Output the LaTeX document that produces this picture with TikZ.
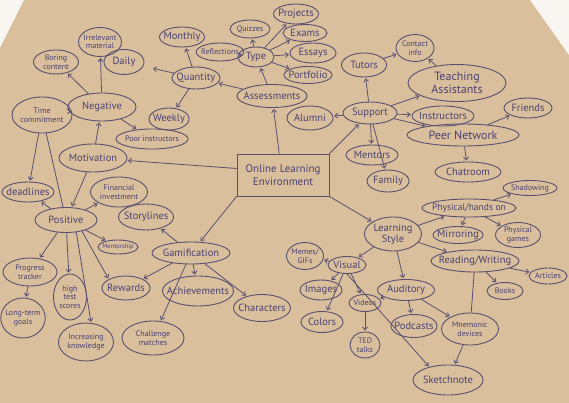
\documentclass[tikz,border=0pt]{standalone}
\usepackage{fontspec}
\setmainfont{PT Sans}
\usepackage{xcolor}
\usepackage{tikz}
\usetikzlibrary{arrows.meta, shapes.geometric}

\definecolor{paper}{HTML}{D9BF9C}
\definecolor{ink}{HTML}{5A5070}
\definecolor{pen}{HTML}{4A4274}

\begin{document}
\begin{tikzpicture}[x=1pt, y=-1pt,
        idea/.style={ellipse, draw=ink, line width=0.9pt, inner xsep=-6pt, inner ysep=0pt,
            text=pen, align=center, font=\fontsize{10.5}{11}\selectfont},
        tiny/.style={inner xsep=-2pt, font=\fontsize{8}{8.5}\selectfont},
        sz/.style 2 args={minimum width=#1pt, minimum height=#2pt},
        link/.style={draw=ink, line width=0.8pt, -{Straight Barb[length=3pt, width=5pt]}, shorten >=1pt},
        bare/.style={draw=ink, line width=0.8pt}]

        % Paper
        \fill[paper] (0,0) rectangle (569,403);
        \fill[white!85!paper] (530,0) -- (569,0) -- (569,55) -- cycle;
        \fill[white!85!paper] (0,0) -- (24,0) -- (0,48) -- cycle;
        \useasboundingbox (0,0) rectangle (569,403);

        % Centre
        \node[draw=ink, line width=0.9pt, text=pen, align=center, minimum width=92pt, minimum height=42pt,
            font=\fontsize{11}{13}\selectfont] (env) at (283,175) {Online Learning\\Environment};

        % Motivation
        \node[idea, sz={68}{28}] (mot) at (93,158) {Motivation};
        \node[idea, sz={68}{28}] (neg) at (102,107) {Negative};
        \node[idea, tiny, sz={45}{24}] (bor) at (56,62) {Boring\\content};
        \node[idea, tiny, sz={43}{29}] (irr) at (100,42) {Irrelevant\\material};
        \node[idea, tiny, sz={60}{36}] (tim) at (42,115) {Time\\commitment};
        \node[idea, tiny, sz={72}{20}] (poo) at (152,139) {Poor instructors};
        \node[idea, sz={62}{25}] (pos) at (66,220) {Positive};
        \node[idea, sz={52}{20}] (dea) at (28,192) {deadlines};
        \node[idea, tiny, sz={57}{30}] (fin) at (119,192) {Financial\\investment};
        \node[idea, tiny, sz={40}{14}, font=\fontsize{6.5}{7}\selectfont] (men) at (118,247) {Mentorship};
        \node[idea, tiny, sz={54}{28}] (pro) at (30,272) {Progress\\tracker};
        \node[idea, tiny, sz={42}{40}] (lon) at (23,318) {Long-term\\goals};
        \node[idea, tiny, sz={33}{46}] (hig) at (70,297) {high\\test\\scores};
        \node[idea, tiny, sz={55}{38}] (inc) at (86,342) {Increasing\\knowledge};

        % Gamification
        \node[idea, sz={78}{22}] (gam) at (191,253) {Gamification};
        \node[idea, sz={55}{26}] (sto) at (146,217) {Storylines};
        \node[idea, sz={48}{24}] (rew) at (126,288) {Rewards};
        \node[idea, sz={68}{30}] (ach) at (198,291) {Achievements};
        \node[idea, tiny, sz={62}{34}] (cha) at (153,338) {Challenge\\matches};
        \node[idea, sz={57}{27}] (chr) at (262,308) {Characters};

        % Assessments
        \node[idea, sz={70}{23}] (ass) at (272,96) {Assessments};
        \node[idea, sz={48}{22}] (qua) at (196,78) {Quantity};
        \node[idea, sz={45}{20}] (mon) at (182,37) {Monthly};
        \node[idea, sz={40}{22}] (wee) at (169,119) {Weekly};
        \node[idea, sz={40}{25}] (dai) at (124,62) {Daily};
        \node[idea, sz={36}{20}] (typ) at (256,57) {Type};
        \node[idea, tiny, sz={45}{18}] (ref) at (220,52) {Reflections};
        \node[idea, tiny, sz={40}{18}] (qui) at (250,29) {Quizzes};
        \node[idea, sz={45}{20}] (prj) at (296,14) {Projects};
        \node[idea, sz={44}{17}] (exa) at (305,33) {Exams};
        \node[idea, sz={46}{20}] (ess) at (313,53) {Essays};
        \node[idea, sz={48}{17}] (prt) at (308,75) {Portfolio};

        % Support
        \node[idea, sz={54}{22}] (sup) at (370,113) {Support};
        \node[idea, sz={46}{24}] (alu) at (310,118) {Alumni};
        \node[idea, sz={45}{24}] (tut) at (364,65) {Tutors};
        \node[idea, tiny, sz={38}{27}] (con) at (415,48) {Contact\\info};
        \node[idea, sz={98}{37}, font=\fontsize{12}{13}\selectfont] (tea) at (457,83) {Teaching\\Assistants};
        \node[idea, sz={62}{20}] (ins) at (443,116) {Instructors};
        \node[idea, sz={112}{22}, font=\fontsize{12}{13}\selectfont] (pee) at (463,135) {Peer Network};
        \node[idea, sz={48}{20}] (fri) at (528,108) {Friends};
        \node[idea, sz={66}{20}] (cht) at (468,172) {Chatroom};
        \node[idea, sz={52}{20}] (mnt) at (372,155) {Mentors};
        \node[idea, sz={42}{22}] (fam) at (388,181) {Family};

        % Learning style
        \node[idea, sz={57}{34}] (lea) at (393,234) {Learning\\Style};
        \node[idea, sz={94}{18}, font=\fontsize{9.5}{10}\selectfont] (phy) at (469,208) {Physical/hands on};
        \node[idea, tiny, sz={54}{15}] (sha) at (530,188) {Shadowing};
        \node[idea, sz={50}{17}] (mir) at (458,235) {Mirroring};
        \node[idea, tiny, sz={45}{25}] (pga) at (518,235) {Physical\\games};
        \node[idea, sz={88}{22}] (rea) at (475,261) {Reading/Writing};
        \node[idea, tiny, sz={38}{16}] (art) at (548,276) {Articles};
        \node[idea, tiny, sz={36}{17}] (boo) at (505,291) {Books};
        \node[idea, sz={38}{17}] (vis) at (347,265) {Visual};
        \node[idea, tiny, sz={37}{27}] (mem) at (305,256) {Memes/\\GIFs};
        \node[idea, sz={42}{20}] (ima) at (321,290) {Images};
        \node[idea, sz={42}{21}] (col) at (322,322) {Colors};
        \node[idea, tiny, sz={32}{17}] (vid) at (365,303) {Videos};
        \node[idea, tiny, sz={30}{26}] (ted) at (365,345) {TED\\talks};
        \node[idea, sz={57}{21}] (aud) at (406,290) {Auditory};
        \node[idea, sz={46}{23}] (pod) at (414,326) {Podcasts};
        \node[idea, tiny, sz={57}{32}] (mne) at (470,329) {Mnemonic\\devices};
        \node[idea, sz={70}{30}] (ske) at (448,380) {Sketchnote};

        % Links out of the centre
        \draw[link] (env.172) -- (mot);
        \draw[link] (env.100) -- (ass);
        \draw[link] (env.north east) -- (sup);
        \draw[link] (env.south east) -- (lea);
        \draw[link] (env.south west) -- (gam);

        % Motivation links
        \draw[link] (mot) -- (neg);
        \draw[link] (mot) -- (pos);
        \draw[link] (neg) -- (bor);
        \draw[link] (neg) -- (irr);
        \draw[link] (neg) -- (tim);
        \draw[link] (neg) -- (poo);
        \draw[link] (tim) -- (dea);
        \draw[bare] (tim) -- (pos);
        \draw[link] (pos) -- (dea);
        \draw[link] (pos) -- (fin);
        \draw[link] (pos) -- (men);
        \draw[link] (pos) -- (pro);
        \draw[link] (pos) -- (hig);
        \draw[link] (pos.-50) -- (inc.75);
        \draw[link] (pos.-35) -- (rew.north west);
        \draw[link] (pro) -- (lon);

        % Gamification links
        \draw[link] (gam) -- (sto);
        \draw[link] (gam) -- (rew);
        \draw[link] (gam) -- (ach);
        \draw[link] (gam) -- (cha);
        \draw[link] (gam) -- (chr);

        % Assessment links
        \draw[link] (ass) -- (qua);
        \draw[link] (ass) -- (typ);
        \draw[link] (qua) -- (mon);
        \draw[link] (qua) -- (wee);
        \draw[link, shorten >=10pt] (qua) -- (dai);
        \draw[link] (typ) -- (ref);
        \draw[link] (typ) -- (qui);
        \draw[link] (typ) -- (prj);
        \draw[link] (typ) -- (exa);
        \draw[link] (typ) -- (ess);
        \draw[link] (typ) -- (prt);

        % Support links
        \draw[link] (sup) -- (alu);
        \draw[link] (sup) -- (tut);
        \draw[link] (sup) -- (tea);
        \draw[link] (sup) -- (ins);
        \draw[link] (sup) -- (pee);
        \draw[link] (sup) -- (mnt);
        \draw[link] (sup) -- (fam);
        \draw[link] (tut) -- (con);
        \draw[link] (tea) -- (con);
        \draw[link] (pee) -- (fri);
        \draw[link] (pee) -- (cht);

        % Learning style links
        \draw[link] (lea) -- (phy);
        \draw[link] (lea) -- (rea);
        \draw[link] (lea) -- (vis);
        \draw[link] (lea) -- (aud);
        \draw[link] (phy) -- (sha);
        \draw[link] (phy) -- (mir);
        \draw[link] (phy) -- (pga);
        \draw[link] (rea) -- (art);
        \draw[link] (rea) -- (boo);
        \draw[bare] (rea) -- (mne);
        \draw[link] (vis) -- (mem);
        \draw[link] (vis) -- (ima);
        \draw[link] (vis) -- (col);
        \draw[link] (vis) -- (vid);
        \draw[link] (vis.south) -- (ske.145);
        \draw[link] (vid) -- (ted);
        \draw[link] (aud) -- (vid);
        \draw[link] (aud) -- (pod);
        \draw[link] (aud) -- (mne);
        \draw[link] (mne) -- (ske);
    \end{tikzpicture}
\end{document}
